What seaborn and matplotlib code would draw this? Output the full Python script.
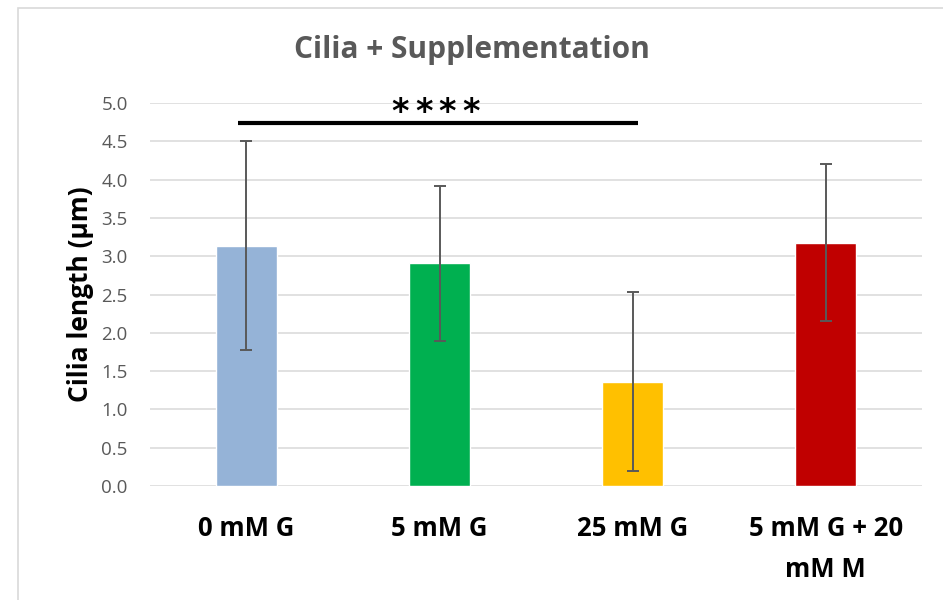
import matplotlib
matplotlib.use("Agg")
import matplotlib.pyplot as plt
import seaborn as sns
import pandas as pd
from matplotlib.patches import Rectangle

# Mean cilia length and standard deviation per treatment
conditions = ["0 mM G", "5 mM G", "25 mM G", "5 mM G + 20\nmM M"]
mean_length = [3.14, 2.91, 1.36, 3.18]
sd_length = [1.37, 1.01, 1.17, 1.02]
bar_colors = ["#95B3D7", "#00B050", "#FFC000", "#C00000"]
y_ticks = [0.0, 0.5, 1.0, 1.5, 2.0, 2.5, 3.0, 3.5, 4.0, 4.5, 5.0]
# Significance bracket between the first and third group
sig_pair = (0, 2)
sig_level = 4.74
sig_label = "****"

sns.set_theme(style="white")
plt.rcParams["font.family"] = ["Open Sans", "DejaVu Sans"]

df = pd.DataFrame({"condition": conditions, "length": mean_length})

fig = plt.figure(figsize=(9.43, 6.0), dpi=100)
ax = fig.add_axes([0.159, 0.19, 0.819, 0.638])

sns.barplot(data=df, x="condition", y="length", hue="condition",
            palette=bar_colors, width=0.316, errorbar=None, legend=False,
            saturation=1, ax=ax, zorder=2)

ax.errorbar(range(len(conditions)), mean_length, yerr=sd_length, fmt="none",
            ecolor="#595959", elinewidth=1.4, capsize=4.3, capthick=1.4, zorder=3)

ax.set_ylim(0, 5.0)
ax.set_xlim(-0.5, len(conditions) - 0.5)
ax.set_yticks(y_ticks)
ax.set_yticklabels([f"{t:.1f}" for t in y_ticks], color="#595959", fontsize=13.5)
ax.tick_params(axis="y", length=0, pad=16)
ax.tick_params(axis="x", length=0, pad=21)
for lab in ax.get_xticklabels():
    lab.set_fontweight("bold")
    lab.set_fontsize(18.5)
    lab.set_color("black")
    lab.set_linespacing(1.65)
    lab.set_verticalalignment("top")

ax.yaxis.grid(True, color="#D9D9D9", linewidth=1.1, zorder=0)
ax.set_axisbelow(True)
for s in ax.spines.values():
    s.set_visible(False)

ax.set_xlabel("")
ax.set_ylabel("Cilia length (µm)", fontsize=19, fontweight="bold", color="black", labelpad=5)

# Significance bar and stars
x0, x1 = sig_pair
ax.plot([x0 - 0.044, x1 + 0.03], [sig_level, sig_level], color="black", linewidth=3,
        solid_capstyle="butt", zorder=4, clip_on=False)
star_mid = (x0 + x1) / 2
star_step = 0.122
for i, ch in enumerate(sig_label):
    ax.text(star_mid - 0.02 + (i - (len(sig_label) - 1) / 2) * star_step, 4.93, ch,
            ha="center", va="center_baseline", fontsize=24, fontweight="bold",
            color="black", family="DejaVu Sans")

fig.text(0.5, 1 - 58 / 600, "Cilia + Supplementation", ha="center", va="baseline",
         fontsize=21.5, fontweight="bold", color="#595959")

# Chart-area frame
fig.patches.append(Rectangle((18 / 943, -0.01), 1.0, 1 - 8 / 600 + 0.01,
                             transform=fig.transFigure, fill=False,
                             edgecolor="#D9D9D9", linewidth=1.2))

fig.savefig("out.png", dpi=100)
